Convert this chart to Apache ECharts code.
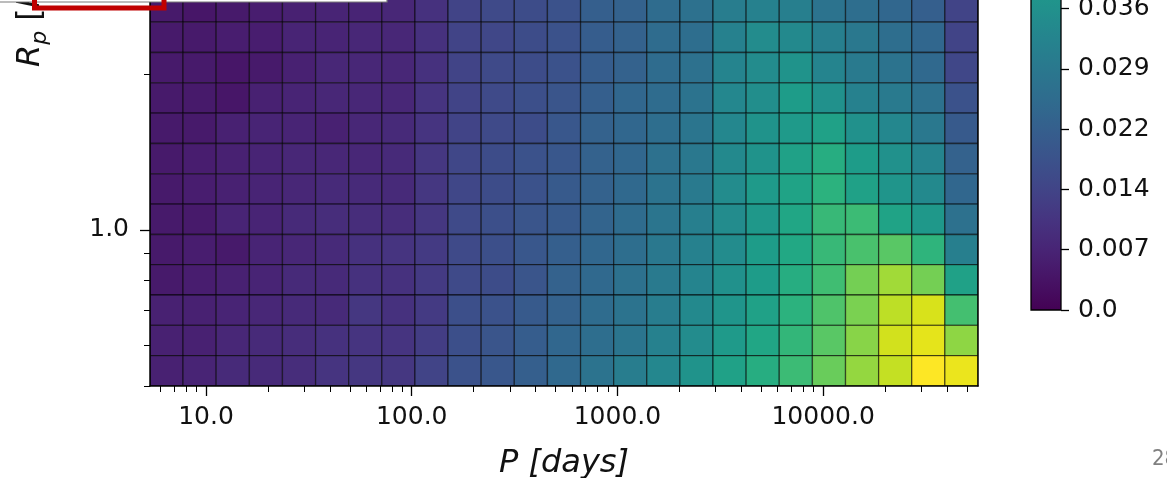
<!DOCTYPE html>
<html>
<head>
<meta charset="utf-8">
<script src="https://cdn.jsdelivr.net/npm/echarts@6/dist/echarts.min.js"></script>
<style>
html,body{margin:0;padding:0;background:#fff;}
#chart{width:1167px;height:478px;}
</style>
</head>
<body>
<div id="chart"></div>
<script>
// ---- data ----
// period bin edges [days]
const pEdges = [5.342, 7.738, 11.21, 16.25, 23.53, 34.10, 49.40, 71.57, 103.7, 150.2, 217.7, 315.4, 456.8, 662.0, 959.0, 1389, 2013, 2916, 4225, 6121, 8868, 12848, 18614, 26968, 39070, 56604];
// radius bin edges (visible part)
const rEdges = [0.5, 0.572, 0.6545, 0.749, 0.857, 0.980, 1.1215, 1.283, 1.468, 1.680, 1.922, 2.199, 2.516, 2.877];
// cell values, top visible row first
const occRows = [
  [.0050,.0043,.0050,.0058,.0065,.0072,.0072,.0079,.0101,.0144,.0158,.0165,.0180,.0216,.0223,.0252,.0266,.0302,.0316,.0309,.0273,.0259,.0237,.0216,.0144],
  [.0050,.0050,.0058,.0058,.0072,.0072,.0079,.0079,.0101,.0144,.0151,.0165,.0180,.0209,.0223,.0252,.0259,.0316,.0345,.0338,.0309,.0288,.0259,.0237,.0144],
  [.0050,.0050,.0043,.0050,.0065,.0079,.0079,.0079,.0101,.0144,.0158,.0165,.0180,.0209,.0223,.0252,.0266,.0324,.0345,.0367,.0324,.0295,.0273,.0244,.0151],
  [.0050,.0050,.0043,.0065,.0072,.0079,.0079,.0079,.0108,.0144,.0158,.0173,.0187,.0216,.0237,.0252,.0273,.0331,.0352,.0395,.0360,.0316,.0295,.0266,.0180],
  [.0050,.0050,.0065,.0072,.0072,.0065,.0079,.0086,.0108,.0144,.0158,.0165,.0194,.0223,.0237,.0259,.0280,.0331,.0367,.0388,.0410,.0360,.0331,.0288,.0201],
  [.0050,.0058,.0065,.0072,.0079,.0079,.0079,.0086,.0115,.0151,.0165,.0180,.0194,.0223,.0237,.0266,.0288,.0338,.0367,.0410,.0446,.0395,.0360,.0324,.0223],
  [.0050,.0058,.0065,.0072,.0079,.0086,.0086,.0086,.0115,.0151,.0165,.0180,.0201,.0223,.0244,.0273,.0295,.0345,.0388,.0417,.0460,.0410,.0374,.0338,.0237],
  [.0050,.0050,.0072,.0072,.0086,.0093,.0093,.0093,.0115,.0158,.0173,.0187,.0201,.0230,.0252,.0280,.0309,.0345,.0381,.0424,.0482,.0489,.0417,.0381,.0266],
  [.0050,.0058,.0050,.0072,.0079,.0086,.0101,.0108,.0122,.0158,.0173,.0194,.0216,.0237,.0259,.0288,.0316,.0345,.0395,.0431,.0482,.0510,.0532,.0467,.0309],
  [.0050,.0058,.0065,.0072,.0086,.0086,.0101,.0101,.0122,.0158,.0165,.0187,.0223,.0244,.0266,.0295,.0324,.0360,.0395,.0446,.0496,.0568,.0618,.0568,.0410],
  [.0065,.0065,.0072,.0079,.0086,.0086,.0115,.0101,.0122,.0173,.0180,.0201,.0223,.0252,.0273,.0302,.0338,.0374,.0410,.0460,.0518,.0575,.0647,.0676,.0503],
  [.0065,.0065,.0079,.0086,.0093,.0101,.0108,.0108,.0129,.0173,.0187,.0209,.0237,.0259,.0280,.0316,.0345,.0388,.0424,.0475,.0532,.0590,.0669,.0690,.0597],
  [.0065,.0072,.0086,.0086,.0093,.0108,.0115,.0115,.0144,.0180,.0194,.0216,.0244,.0273,.0302,.0331,.0367,.0410,.0446,.0489,.0554,.0604,.0654,.0719,.0697]
];
const xTickValues = [10, 100, 1000, 10000];
const xTickLabels = ['10.0', '100.0', '1000.0', '10000.0'];
const xMinorTicks = [6,7,8,9,20,30,40,50,60,70,80,90,200,300,400,500,600,700,800,900,2000,3000,4000,5000,6000,7000,8000,9000,20000,30000,40000,50000];
const yTickValues = [1];
const yTickLabels = ['1.0'];
const yMinorTicks = [0.5, 0.6, 0.7, 0.8, 0.9, 2];
const cbarMax = 0.0719;
const cbarStep = 0.00719;
const viridis = ['#440154','#471365','#482475','#463480','#414487','#3b528b','#355f8d','#2f6c8e','#2a788e','#25848e','#21918c','#1e9c89','#22a884','#2fb47c','#44bf70','#5ec962','#7ad151','#9bd93c','#bddf26','#dfe318','#fde725'];

// ---- build ----
const L = Math.log10;
const nRows = occRows.length;
const cells = [];
occRows.forEach((row, k) => {
  const r = nRows - 1 - k;
  row.forEach((v, c) => {
    cells.push([L(pEdges[c]), L(pEdges[c + 1]), L(rEdges[r]), L(rEdges[r + 1]), v]);
  });
});
function pick(values, labels) {
  return function (v) {
    for (let i = 0; i < values.length; i++) {
      if (Math.abs(L(values[i]) - v) < 1e-6) return labels[i];
    }
    return '';
  };
}
const FONT = 'DejaVu Sans';
const black = '#000';
const xMin = L(pEdges[0]), xMax = L(pEdges[pEdges.length - 1]);
const yMin = L(rEdges[0]), yMax = L(rEdges[rEdges.length - 1]);

const chart = echarts.init(document.getElementById('chart'), null, {renderer: 'canvas'});
const option = {
  animation: false,
  backgroundColor: '#fff',
  grid: [
    {left: 150, right: 189, top: -8, bottom: 92, outerBoundsMode: 'none', containLabel: false},
    {left: 1031, width: 30, top: -293, bottom: 168, outerBoundsMode: 'none', containLabel: false}
  ],
  xAxis: [
    {
      gridIndex: 0, type: 'value', position: 'bottom', min: xMin, max: xMax, z: 10,
      axisLine: {show: true, onZero: false, lineStyle: {color: black, width: 1.5}},
      axisTick: {show: true, customValues: xTickValues.map(L), length: 10, inside: false, lineStyle: {color: black, width: 1.3}},
      axisLabel: {show: true, customValues: xTickValues.map(L), formatter: pick(xTickValues, xTickLabels),
        fontFamily: FONT, fontSize: 25, color: '#111', margin: 19},
      splitLine: {show: false},
      name: 'P [days]', nameLocation: 'middle', nameGap: 62,
      nameTextStyle: {fontFamily: FONT, fontSize: 32, fontStyle: 'italic', color: '#111'}
    },
    {
      gridIndex: 0, type: 'value', position: 'bottom', min: xMin, max: xMax, z: 10,
      axisLine: {show: false, onZero: false},
      axisTick: {show: true, customValues: xMinorTicks.map(L), length: 6, inside: false, lineStyle: {color: black, width: 1}},
      axisLabel: {show: false},
      splitLine: {show: false}
    },
    {gridIndex: 1, type: 'value', min: 0, max: 1, show: false, axisLine: {onZero: false}}
  ],
  yAxis: [
    {
      gridIndex: 0, type: 'value', position: 'left', min: yMin, max: yMax, z: 10,
      axisLine: {show: true, onZero: false, lineStyle: {color: black, width: 1.5}},
      axisTick: {show: true, customValues: yTickValues.map(L), length: 10, inside: false, lineStyle: {color: black, width: 1.3}},
      axisLabel: {show: true, customValues: yTickValues.map(L), formatter: pick(yTickValues, yTickLabels),
        fontFamily: FONT, fontSize: 25, color: '#111', margin: 21},
      splitLine: {show: false}
    },
    {
      gridIndex: 0, type: 'value', position: 'left', min: yMin, max: yMax, z: 10,
      axisLine: {show: false, onZero: false},
      axisTick: {show: true, customValues: yMinorTicks.map(L), length: 6, inside: false, lineStyle: {color: black, width: 1}},
      axisLabel: {show: false},
      splitLine: {show: false}
    },
    {
      gridIndex: 0, type: 'value', position: 'right', min: yMin, max: yMax, z: 10,
      axisLine: {show: true, onZero: false, lineStyle: {color: black, width: 1.5}},
      axisTick: {show: false}, axisLabel: {show: false}, splitLine: {show: false}
    },
    {
      gridIndex: 1, type: 'value', position: 'right', min: 0, max: cbarMax, interval: cbarStep,
      axisLine: {show: false, onZero: false},
      axisTick: {show: true, length: 8, inside: false, lineStyle: {color: black, width: 1.3}},
      axisLabel: {show: true, fontFamily: FONT, fontSize: 25, color: '#111', margin: 17,
        formatter: v => (Math.abs(v) < 1e-9 ? '0.0' : v.toFixed(3))},
      splitLine: {show: false}
    }
  ],
  visualMap: [{
    type: 'continuous', show: false, min: 0, max: cbarMax, dimension: 4, seriesIndex: 0,
    inRange: {color: viridis}
  }],
  series: [
    {
      type: 'custom', xAxisIndex: 0, yAxisIndex: 0, clip: true,
      dimensions: ['p0', 'p1', 'r0', 'r1', 'v'],
      encode: {x: ['p0', 'p1'], y: ['r0', 'r1']},
      data: cells,
      renderItem: function (params, api) {
        const a = api.coord([api.value(0), api.value(2)]);
        const b = api.coord([api.value(1), api.value(3)]);
        return {
          type: 'rect',
          shape: {x: a[0], y: b[1], width: b[0] - a[0], height: a[1] - b[1]},
          style: {fill: api.visual('color'), stroke: 'rgba(0,0,0,0.55)', lineWidth: 1.3}
        };
      }
    },
    {
      type: 'custom', xAxisIndex: 2, yAxisIndex: 3,
      dimensions: ['x0', 'x1', 'y0', 'y1'],
      encode: {x: ['x0', 'x1'], y: ['y0', 'y1']},
      data: [[0, 1, 0, cbarMax]],
      renderItem: function (params, api) {
        const a = api.coord([api.value(0), api.value(2)]);
        const b = api.coord([api.value(1), api.value(3)]);
        return {
          type: 'rect',
          shape: {x: a[0], y: b[1], width: b[0] - a[0], height: a[1] - b[1]},
          style: {
            fill: {type: 'linear', x: 0, y: 1, x2: 0, y2: 0,
              colorStops: viridis.map((c, i) => ({offset: i / (viridis.length - 1), color: c}))},
            stroke: black, lineWidth: 1.3
          }
        };
      }
    }
  ],
  graphic: [
    {
      type: 'text', x: 31, y: 67, rotation: Math.PI / 2, z: 50,
      style: {
        text: '{i|R}{s|p}{n| [}{i|R}{s|J}{n|]}',
        align: 'left', verticalAlign: 'middle',
        rich: {
          i: {fontFamily: FONT, fontSize: 32, fontStyle: 'italic', fill: '#111', lineHeight: 40},
          n: {fontFamily: FONT, fontSize: 32, fill: '#111', lineHeight: 40},
          s: {fontFamily: FONT, fontSize: 22, fontStyle: 'italic', fill: '#111', lineHeight: 40, verticalAlign: 'bottom'}
        }
      }
    },
    {type: 'rect', z: 60, shape: {x: -2, y: -6, width: 389, height: 8}, style: {fill: '#fff', stroke: '#7a7a7a', lineWidth: 1.2}},
    {type: 'rect', z: 70, shape: {x: 34.5, y: -25, width: 129.5, height: 33}, style: {fill: 'rgba(0,0,0,0)', stroke: '#c00000', lineWidth: 5}},
    {type: 'text', z: 70, x: 1152, y: 459, style: {text: '28', fontFamily: 'Liberation Sans Narrow, DejaVu Sans Condensed, sans-serif', fontSize: 22, fill: '#808080', verticalAlign: 'middle'}}
  ]
};
chart.setOption(option);
</script>
</body>
</html>
